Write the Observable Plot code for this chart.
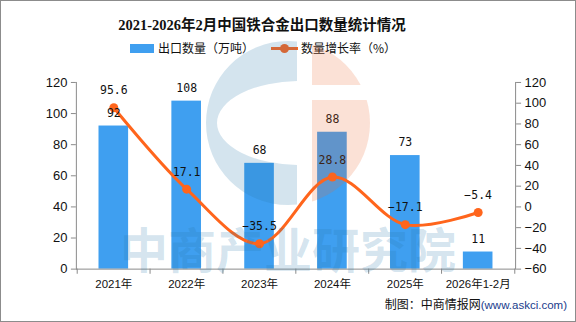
<!DOCTYPE html>
<html><head><meta charset="utf-8">
<script src="https://cdn.jsdelivr.net/npm/d3@7"></script>
<script src="https://cdn.jsdelivr.net/npm/@observablehq/plot@0.6"></script>
<style>
html,body{margin:0;padding:0;background:#fff}
#wrap{position:relative;width:574px;height:320px;border:1px solid #8c8c8c;overflow:hidden;background:#fff;font-family:"Noto Sans CJK SC",sans-serif;color:#111}
#title{position:absolute;left:0;top:14px;width:522px;text-align:center;font-size:14.5px;font-weight:700;line-height:20px;font-family:"Liberation Serif","Noto Sans CJK SC",serif}
.lg{position:absolute;font-size:12px;line-height:16px;top:39px;white-space:nowrap}
#chart{position:absolute;left:-1px;top:59px}
#caption{position:absolute;right:8px;top:295px;font-size:12px;line-height:16px;white-space:nowrap}
#caption span{font-family:"Liberation Sans",sans-serif;font-size:11.5px;color:#1a3c8c}
#wm{position:absolute;left:-1px;top:-1px;pointer-events:none}
</style></head>
<body>
<div id="wrap">
  <div id="title">2021-2026年2月中国铁合金出口数量统计情况</div>
  <div id="legend"></div>
  <div id="chart"></div>
  <div id="caption">制图：中商情报网<span>(www.askci.com)</span></div>
</div>
<script>
const categories = ["2021年","2022年","2023年","2024年","2025年","2026年1-2月"];
const exportVolume = [92,108,68,88,73,11];
const growthRate = [95.6,17.1,-35.5,28.8,-17.1,-5.4];
const leftTicks = [0,20,40,60,80,100,120];
const rightTicks = [-60,-40,-20,0,20,40,60,80,100,120];
const seriesNames = ["出口数量（万吨）","数量增长率（%）"];
const barColor = "#3f9ff0";
const lineColor = "#ff651c";

const wrap = document.getElementById("wrap");
// legend
const legendHTML = `
<div style="position:absolute;left:129px;top:43px;width:24px;height:9px;background:${barColor}"></div>
<div class="lg" style="left:157px">${seriesNames[0]}</div>
<div style="position:absolute;left:270px;top:46px;width:27px;height:3px;background:${lineColor}"></div>
<div style="position:absolute;left:279px;top:43px;width:9px;height:9px;border-radius:50%;background:${lineColor}"></div>
<div class="lg" style="left:300px">${seriesNames[1]}</div>`;
document.getElementById("legend").innerHTML = legendHTML;

const toLeft = d3.scaleLinear([-60,120],[0,120]);
const data = categories.map((c,i)=>({cat:c, vol:exportVolume[i], rate:growthRate[i], rateY:toLeft(growthRate[i])}));
const plotW = 576, mL = 76, mR = 60;
const bw = (plotW - mL - mR) / categories.length;
const fmtSigned = v => (v < 0 ? "\u2212" + Math.abs(v) : String(v));

const chart = Plot.plot({
  width: plotW, height: 231,
  marginLeft: mL, marginRight: mR, marginTop: 22, marginBottom: 22,
  x: {domain: categories, padding: 0, axis: null, label: null},
  y: {domain: [0,120], axis: null, label: null},
  style: {fontFamily: "'Liberation Sans', 'Noto Sans CJK SC', sans-serif", fontSize: "13px", color: "#111", background: "transparent", overflow: "visible"},
  marks: [
    Plot.barY(data, {x: "cat", y: "vol", fill: barColor, insetLeft: bw/2 - 15, insetRight: bw/2 - 15}),
    Plot.ruleY([0], {stroke: "#8a8a8a"}),
    Plot.frame({anchor: "left", stroke: "#8a8a8a"}),
    Plot.frame({anchor: "right", stroke: "#8a8a8a"}),
    Plot.ruleX(categories, {x: d => d, dx: -bw/2, y1: 0, y2: -3.3, stroke: "#8a8a8a"}),
    Plot.ruleX([categories[categories.length-1]], {x: d => d, dx: bw/2, y1: 0, y2: -3.3, stroke: "#8a8a8a"}),
    Plot.axisY(leftTicks, {anchor: "left", tickSize: 5, tickPadding: 4, stroke: "#8a8a8a", fill: "#111", fontSize: 13, label: null}),
    Plot.axisY(rightTicks.map(toLeft), {anchor: "right", tickSize: 5, tickPadding: 4, stroke: "#8a8a8a", fill: "#111", fontSize: 13, label: null,
      tickFormat: d => fmtSigned(Math.round(toLeft.invert(d)))}),
    Plot.axisX({anchor: "bottom", tickSize: 0, tickPadding: 11, fontSize: 11.5, fill: "#111", label: null}),
    Plot.line(data, {x: "cat", y: "rateY", stroke: lineColor, strokeWidth: 3, curve: "catmull-rom"}),
    Plot.dot(data, {x: "cat", y: "rateY", r: 4.5, fill: lineColor}),
    Plot.text(data, {x: "cat", y: "vol", text: d => String(d.vol), dy: -13, fontFamily: "'DejaVu Sans Mono', monospace", fontSize: 11.5, fill: "#111"}),
    Plot.text(data, {x: "cat", y: "rateY", text: d => fmtSigned(d.rate), dy: -17, fontFamily: "'DejaVu Sans Mono', monospace", fontSize: 11.5, fill: "#111"})
  ]
});
document.getElementById("chart").appendChild(chart);

// watermark (decorative)
const ns = "http://www.w3.org/2000/svg";
const wm = document.createElementNS(ns, "svg");
wm.setAttribute("id","wm"); wm.setAttribute("width",576); wm.setAttribute("height",322);
wm.innerHTML = `
<defs>
 <clipPath id="cl"><rect x="0" y="0" width="297" height="322"/></clipPath>
 <clipPath id="cr"><rect x="312" y="0" width="300" height="85"/><rect x="312" y="100" width="300" height="222"/></clipPath>
</defs>
<path clip-path="url(#cl)" fill="rgba(38,120,170,0.2)" fill-rule="evenodd"
 d="M206,123a82,82 0 1,0 164,0a82,82 0 1,0 -164,0Z M217,123a83,42 0 1,0 166,0a83,42 0 1,0 -166,0Z"/>
<circle clip-path="url(#cr)" cx="288" cy="123" r="82" fill="rgba(235,105,50,0.2)"/>
<text x="120" y="268" font-family="Noto Sans CJK SC" font-weight="700" font-size="48" textLength="336" fill="rgba(38,120,170,0.2)">中商产业研究院</text>`;
wrap.appendChild(wm);
</script>
</body></html>
